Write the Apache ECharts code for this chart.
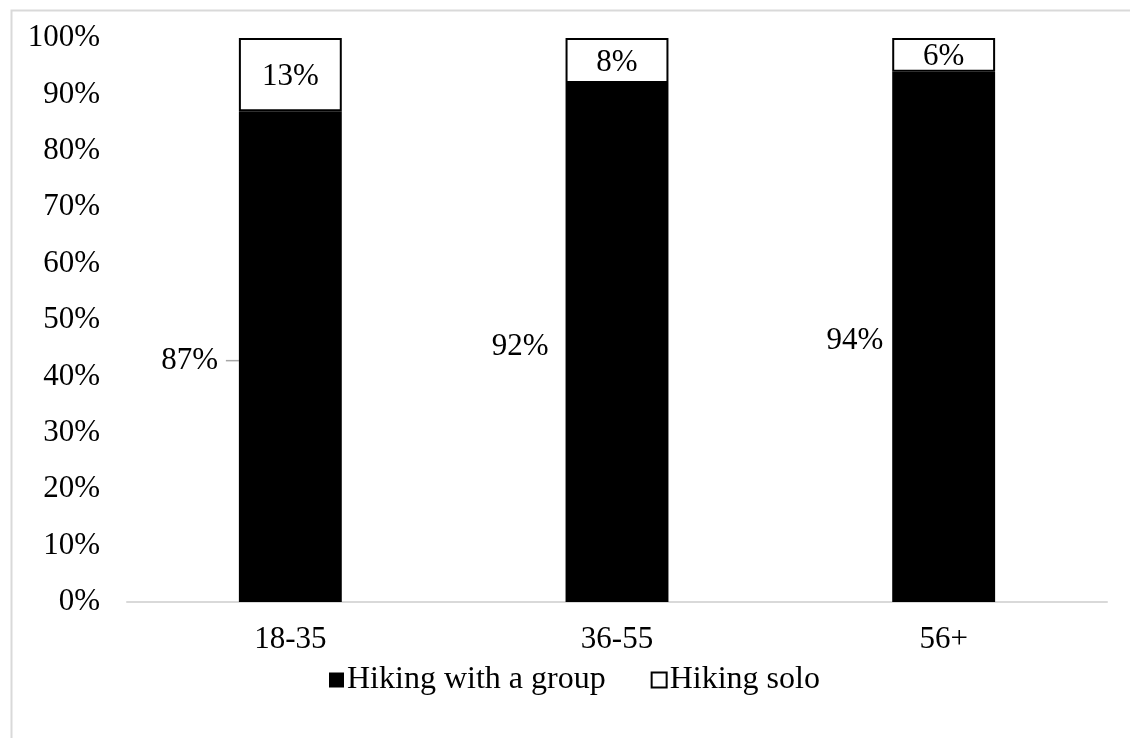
<!DOCTYPE html>
<html>
<head>
<meta charset="utf-8">
<script src="https://cdn.jsdelivr.net/npm/echarts@6/dist/echarts.min.js"></script>
<style>html,body{margin:0;padding:0;background:#fff}#c{width:1130px;height:738px}</style>
</head>
<body>
<div id="c"></div>
<script>
var categories = ['18-35', '36-55', '56+'];
var groupValues = [87, 92, 94];
var soloValues = [13, 8, 6];
var yTicks = [0, 10, 20, 30, 40, 50, 60, 70, 80, 90, 100];
var seriesNames = ['Hiking with a group', 'Hiking solo'];

var FONT = "'Liberation Serif', 'Times New Roman', serif";
var labelDistances = [0, 17, 9];

var chart = echarts.init(document.getElementById('c'));
chart.setOption({
  animation: false,
  backgroundColor: '#fff',
  textStyle: { fontFamily: FONT },
  graphic: [{
    type: 'rect', left: 9, top: 8, silent: true,
    shape: { width: 1200, height: 800 },
    style: { fill: 'none', stroke: '#d9d9d9', lineWidth: 2 }
  }],
  grid: { left: 127, right: 23, top: 38, bottom: 136 },
  legend: {
    bottom: 37, left: 324,
    icon: 'rect', itemWidth: 15, itemHeight: 15, itemGap: 45,
    textStyle: { fontFamily: FONT, fontSize: 32, color: '#000', padding: [0, 0, 0, -2] },
    data: seriesNames
  },
  xAxis: {
    type: 'category', data: categories,
    axisLine: { lineStyle: { color: '#d9d9d9', width: 2 } },
    axisTick: { show: false },
    axisLabel: { fontFamily: FONT, fontSize: 31, color: '#000', margin: 22 }
  },
  yAxis: {
    type: 'value', min: yTicks[0], max: yTicks[yTicks.length - 1], interval: 10,
    axisLine: { show: false }, axisTick: { show: false }, splitLine: { show: false },
    axisLabel: { fontFamily: FONT, fontSize: 31, color: '#000', margin: 27, formatter: '{value}%' }
  },
  series: [{
    name: seriesNames[0], type: 'bar', stack: 'a', barWidth: '31.5%',
    itemStyle: { color: '#000', borderWidth: 0 },
    labelLayout: function (params) {
      if (params.dataIndex === 0) return { dx: -13, dy: 4 };
      return { dy: 4 };
    },
    data: groupValues.map(function (v, i) {
      var d = {
        value: v,
        label: { show: true, position: 'left', distance: labelDistances[i],
          formatter: '{c}%', fontFamily: FONT, fontSize: 31, color: '#000' }
      };
      if (i === 0) {
        d.label.formatter = '{c}% ';
        d.labelLine = { show: true, lineStyle: { color: '#a6a6a6', width: 1.5 } };
      }
      return d;
    })
  }, {
    name: seriesNames[1], type: 'bar', stack: 'a',
    itemStyle: { color: '#fff', borderColor: '#000', borderWidth: 2 },
    label: { show: true, position: 'inside', offset: [0, 2], formatter: '{c}%', fontFamily: FONT, fontSize: 31, color: '#000' },
    data: soloValues
  }]
});
</script>
</body>
</html>
